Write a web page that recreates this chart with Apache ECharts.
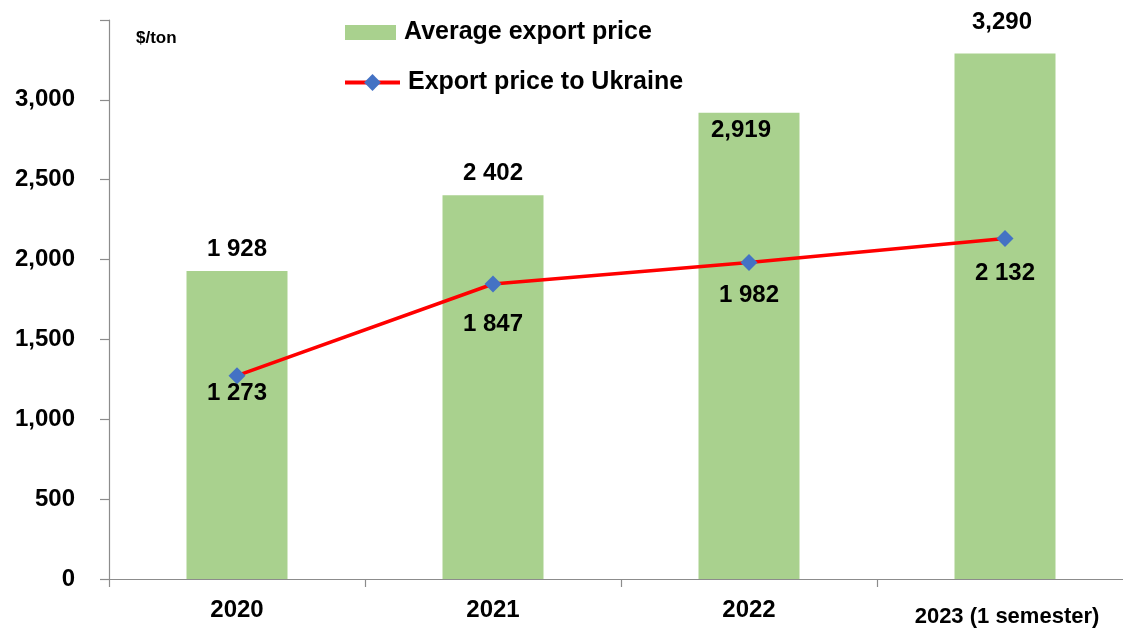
<!DOCTYPE html>
<html>
<head>
<meta charset="utf-8">
<script src="https://cdn.jsdelivr.net/npm/echarts@6/dist/echarts.min.js"></script>
<style>
html, body { margin: 0; padding: 0; background: #fff; }
#chart { width: 1123px; height: 630px; }
</style>
</head>
<body>
<div id="chart"></div>
<script>
var years = ['2020', '2021', '2022', '2023 (1 semester)'];
var avgPrice = [1928, 2402, 2919, 3290];
var ukrPrice = [1273, 1847, 1982, 2132];
// value labels as printed in the source
var avgText = ['1 928', '2 402', '2,919', '3,290'];
var ukrText = ['1 273', '1 847', '1 982', '2 132'];

var font = 'Liberation Sans';

var chart = echarts.init(document.getElementById('chart'));

// per-point label tweaks
var barLabelPos = [
    {position: 'top', distance: 10},
    {position: 'top', distance: 10},
    {position: 'insideTop', distance: 6, offset: [-8, 0]},
    {position: 'top', distance: 19, offset: [-3, 0]}
];
var lineLabelDy = [18, 40, 33, 35];

var barData = avgPrice.map(function (v, i) {
    return {
        value: v,
        label: barLabelPos[i]
    };
});
var lineData = ukrPrice.map(function (v, i) {
    return {
        value: v,
        label: {position: 'inside', offset: [0, lineLabelDy[i]]}
    };
});

var legendText = {
    fontFamily: font,
    fontSize: 25,
    fontWeight: 'bold',
    color: '#000',
    padding: [0, 0, 0, 3]
};

var option = {
    animation: false,
    textStyle: {fontFamily: font},
    grid: {
        left: 109,
        right: -10,
        top: 20,
        bottom: 51,
        containLabel: false,
        outerBoundsMode: 'none'
    },
    legend: [{
        orient: 'vertical',
        left: 345,
        top: 20,
        padding: 0,
        itemWidth: 51,
        itemHeight: 15,
        icon: 'rect',
        textStyle: legendText,
        data: ['Average export price']
    }, {
        orient: 'vertical',
        left: 343,
        top: 70,
        padding: 0,
        itemWidth: 55,
        itemHeight: 21,
        textStyle: legendText,
        lineStyle: {width: 4},
        data: ['Export price to Ukraine']
    }],
    graphic: [{
        type: 'text',
        left: 136,
        top: 30,
        style: {
            text: '$/ton',
            font: 'bold 17px "Liberation Sans"',
            fill: '#000'
        }
    }],
    xAxis: {
        type: 'category',
        data: years,
        boundaryGap: true,
        axisLine: {lineStyle: {color: '#8c8c8c', width: 1.2}},
        axisTick: {show: true, interval: 0, length: 8, lineStyle: {color: '#8c8c8c', width: 1.2}},
        axisLabel: {
            interval: 0,
            margin: 19,
            color: '#000',
            fontFamily: font,
            fontSize: 24,
            fontWeight: 'bold',
            formatter: function (v, i) {
                return i === 3 ? '{s|' + v + '}' : v;
            },
            rich: {
                s: {
                    fontFamily: font,
                    fontSize: 22,
                    fontWeight: 'bold',
                    color: '#000',
                    padding: [8, 0, 0, 4]
                }
            }
        }
    },
    yAxis: {
        type: 'value',
        min: 0,
        max: 3500,
        interval: 500,
        splitLine: {show: false},
        axisLine: {show: true, lineStyle: {color: '#8c8c8c', width: 1.2}},
        axisTick: {show: true, length: 9, lineStyle: {color: '#8c8c8c', width: 1.2}},
        axisLabel: {
            margin: 34,
            color: '#000',
            fontFamily: font,
            fontSize: 24,
            fontWeight: 'bold',
            formatter: function (v) {
                if (v === 3500) return '';
                return v >= 1000 ? Math.floor(v / 1000) + ',' + String(v % 1000).padStart(3, '0') : String(v);
            }
        }
    },
    series: [
        {
            name: 'Average export price',
            type: 'bar',
            barWidth: 101,
            data: barData,
            itemStyle: {color: '#a9d18e'},
            label: {
                show: true,
                color: '#000',
                fontFamily: font,
                fontSize: 24,
                fontWeight: 'bold',
                formatter: function (p) { return avgText[p.dataIndex]; }
            }
        },
        {
            name: 'Export price to Ukraine',
            type: 'line',
            data: lineData,
            symbol: 'diamond',
            symbolSize: 17,
            lineStyle: {color: '#ff0000', width: 3.5},
            itemStyle: {color: '#4472c4'},
            label: {
                show: true,
                color: '#000',
                fontFamily: font,
                fontSize: 24,
                fontWeight: 'bold',
                formatter: function (p) { return ukrText[p.dataIndex]; }
            }
        }
    ]
};

chart.setOption(option);
</script>
</body>
</html>
